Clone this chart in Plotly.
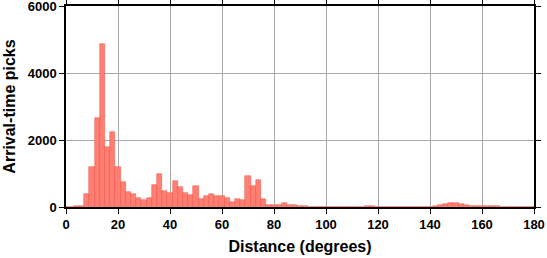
import plotly.graph_objects as go

# Bin centres (degrees), 2-degree bins with odd edges
distance = list(range(0, 182, 2))
picks = [5, 10, 25, 40, 390, 1200, 2650, 4870, 1800, 2250,
         1200, 750, 440, 400, 280, 220, 280, 670, 1000, 480,
         420, 780, 600, 410, 370, 630, 250, 330, 400, 340,
         340, 270, 150, 250, 220, 930, 630, 810, 250, 70,
         60, 70, 120, 70, 60, 30, 20, 15, 15, 15,
         15, 15, 15, 15, 15, 15, 15, 15, 20, 40,
         15, 15, 15, 15, 15, 15, 15, 15, 15, 15,
         15, 30, 70, 80, 110, 120, 80, 70, 40, 40,
         40, 40, 40, 30, 15, 10, 10, 10, 10, 10, 10]

x_ticks = list(range(0, 181, 20))
y_ticks = [0, 2000, 4000, 6000]

fig = go.Figure(go.Bar(
    x=distance, y=picks, width=2,
    marker=dict(color="#FF8072", line=dict(color="rgba(240,60,50,0.7)", width=0.6)),
))

axis_common = dict(
    showline=True, linecolor="black", linewidth=1.5, mirror="ticks",
    ticks="outside", ticklen=5, tickcolor="black", tickwidth=1,
    showgrid=True, gridcolor="#a8a8a8", gridwidth=1, zeroline=False,
    automargin=False, ticklabeloverflow="allow",
    tickfont=dict(family="Liberation Sans", size=13, color="black", weight="bold"),
)

fig.update_layout(
    width=547, height=258,
    margin=dict(l=66, r=13, t=6, b=51),
    plot_bgcolor="white", paper_bgcolor="white",
    showlegend=False, bargap=0,
    xaxis=dict(range=[0, 180], tickvals=x_ticks, **axis_common,
               title=dict(text="<b>Distance (degrees)</b>", standoff=9,
                          font=dict(family="Liberation Sans", size=16, color="black"))),
    yaxis=dict(range=[0, 6000], tickvals=y_ticks, **axis_common,
               title=dict(text="<b>Arrival-time picks</b>", standoff=8,
                          font=dict(family="Liberation Sans", size=16, color="black"))),
)

fig.write_html("out.html")
